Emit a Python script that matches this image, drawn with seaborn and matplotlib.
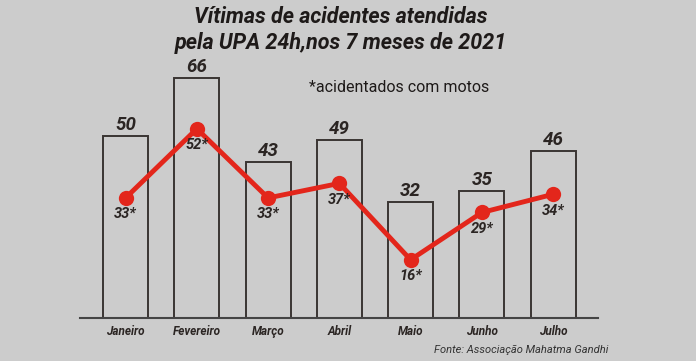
import numpy as np
import pandas as pd
import matplotlib
matplotlib.use('Agg')
import matplotlib.pyplot as plt
import seaborn as sns

# data
meses = ['Janeiro', 'Fevereiro', 'Março', 'Abril', 'Maio', 'Junho', 'Julho']
total = [50, 66, 43, 49, 32, 35, 46]
motos = [33, 52, 33, 37, 16, 29, 34]

bg = '#cccccc'
ink = '#2b2523'
red = '#e3261b'

sns.set_theme(style='white')
plt.rcParams['font.family'] = ['Roboto', 'DejaVu Sans']

df = pd.DataFrame({'mes': meses, 'total': total, 'motos': motos})

fig = plt.figure(figsize=(6.96, 3.61), dpi=100, facecolor=bg)
ax = fig.add_axes([80 / 696, 43 / 361, 518 / 696, 278 / 361])
ax.set_facecolor(bg)

sns.barplot(data=df, x='mes', y='total', color=bg, edgecolor='#3a3432',
            linewidth=1.4, width=0.63, saturation=1, ax=ax)
sns.lineplot(x=np.arange(len(meses)), y=df['motos'], color=red, linewidth=3.5,
             marker='o', markersize=11, markeredgewidth=0, ax=ax)

for i, v in enumerate(total):
    ax.text(i, v + 0.5, str(v), ha='center', va='bottom', fontsize=13.5,
            fontweight='bold', fontstyle='italic', color=ink)
for i, v in enumerate(motos):
    ax.text(i, v - 2.6, f'{v}*', ha='center', va='top', fontsize=10.5,
            fontweight='bold', fontstyle='italic', color=ink)

ax.set_xlim(-0.64, 6.63)
ax.set_ylim(0, 76.4)
ax.set_xlabel('')
ax.set_ylabel('')
ax.set_yticks([])
ax.tick_params(axis='x', length=0, pad=5)
for lab in ax.get_xticklabels():
    lab.set_fontsize(8.5)
    lab.set_fontweight('bold')
    lab.set_fontstyle('italic')
    lab.set_color(ink)
for s in ['top', 'left', 'right']:
    ax.spines[s].set_visible(False)
ax.spines['bottom'].set_color('#444444')
ax.spines['bottom'].set_linewidth(1.5)

fig.text(341 / 696, 1 - 30 / 361, 'Vítimas de acidentes atendidas\npela UPA 24h,nos 7 meses de 2021',
         ha='center', va='center', fontsize=15.5, fontweight='bold', fontstyle='italic',
         color='#1e1a19', linespacing=1.2)
fig.text(399 / 696, 1 - 88 / 361, '*acidentados com motos', ha='center', va='center',
         fontsize=11.5, color='#1e1a19')
fig.text(608 / 696, 1 - 350 / 361, 'Fonte: Associação Mahatma Gandhi', ha='right', va='center',
         fontsize=8, fontstyle='italic', color='#333333')

fig.savefig('out.png', dpi=100, facecolor=bg)
